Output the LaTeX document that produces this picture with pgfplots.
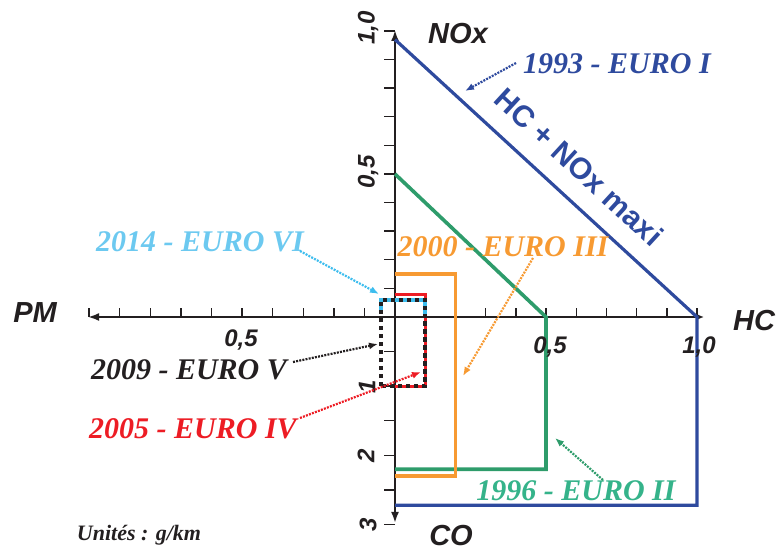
\documentclass[border=0pt]{standalone}
\usepackage{fontspec}
\setmainfont{Liberation Serif}
\setsansfont{Liberation Sans}
\usepackage{pgfplots}
\pgfplotsset{compat=1.18}
\usetikzlibrary{arrows.meta}
\definecolor{eublue}{HTML}{2E4A9E}
\definecolor{eugreen}{HTML}{2E9C6B}
\definecolor{eugreentxt}{HTML}{35B38A}
\definecolor{euorange}{HTML}{F79A32}
\definecolor{eured}{HTML}{ED1C24}
\definecolor{eucyan}{HTML}{3DBDEE}
\definecolor{eucyantxt}{HTML}{6CC9F0}
\definecolor{eublack}{HTML}{231F20}
\begin{document}
\begin{tikzpicture}
\useasboundingbox (0,0) rectangle (777pt,546pt);
% axes, ticks (pixel frame of the reference)
\begin{scope}[shift={(0,546pt)}, x=1pt, y=-1pt]
  \draw[eublack, line width=2.4pt, {Latex[length=11pt,width=8pt]}-{Latex[length=7pt,width=6pt]}] (88,317) -- (704,317);
  \draw[eublack, line width=2.4pt, {Latex[length=11pt,width=8pt]}-{Latex[length=11pt,width=8pt]}] (395,30) -- (395,523);
  \foreach \k in {1,...,10} {
    \draw[eublack, line width=1.4pt] (395+30.2*\k,317) -- ++(0,-9);
    \draw[eublack, line width=1.4pt] (395-30.6*\k,317) -- ++(0,-9);
    \draw[eublack, line width=1.4pt] (395,317-28.6*\k) -- ++(-11,0);
  }
  \foreach \k in {1,...,6} {
    \draw[eublack, line width=1.4pt] (395,317+34.6*\k) -- ++(-11,0);
  }
\end{scope}
\begin{axis}[at={(0,0)}, anchor=south west, x=302pt, y=286pt,
  xmin=-1.30795, xmax=1.26490, ymin=-0.80070, ymax=1.10839,
  hide axis, clip=false,
  y filter/.expression={y<0 ? 0.2420*y : y}]
% y > 0 : NOx (g/km), y < 0 : CO (g/km, drawn downwards), x > 0 : HC, x < 0 : PM
\addplot[eublue, line width=3.2pt, line join=miter] coordinates {(0,0.97) (1.0,0) (1.0,-2.72) (0,-2.72)};
\addplot[eugreen, line width=3.6pt, line join=miter] coordinates {(0,0.5) (0.5,0) (0.5,-2.2) (0,-2.2)};
\addplot[euorange, line width=3.6pt, line join=miter] coordinates {(0,0.15) (0.2,0.15) (0.2,-2.3) (0,-2.3)};
\addplot[eured, line width=3.2pt, line join=miter] coordinates {(0,0.08) (0.1,0.08) (0.1,-1.0) (0,-1.0)};
\addplot[eublack, line width=4.5pt, dash pattern=on 4.5pt off 3.5pt] coordinates {(-0.046,-1.0) (-0.046,0.06) (0.1,0.06) (0.1,-1.0) (-0.046,-1.0)};
\addplot[eucyan, line width=4.5pt, dash pattern=on 4pt off 4pt, dash phase=4pt] coordinates {(-0.046,0.012) (-0.046,0.06) (0.1,0.06) (0.1,0.012)};
\end{axis}
\begin{scope}[shift={(0,546pt)}, x=1pt, y=-1pt]
  % axis names and tick labels
  \begin{scope}[every node/.style={inner sep=0pt, font=\sffamily\bfseries\itshape, text=eublack}]
    \node[font=\fontsize{29}{29}\selectfont\sffamily\bfseries\itshape] at (458,34) {NOx};
    \node[font=\fontsize{29}{29}\selectfont\sffamily\bfseries\itshape] at (754,321) {HC};
    \node[font=\fontsize{29}{29}\selectfont\sffamily\bfseries\itshape] at (35,313) {PM};
    \node[font=\fontsize{29}{29}\selectfont\sffamily\bfseries\itshape] at (451,536) {CO};
    \node[font=\fontsize{24}{24}\selectfont\sffamily\bfseries\itshape] at (550,347) {0,5};
    \node[font=\fontsize{24}{24}\selectfont\sffamily\bfseries\itshape] at (699,347) {1,0};
    \node[font=\fontsize{24}{24}\selectfont\sffamily\bfseries\itshape] at (241,340) {0,5};
    \node[rotate=90, font=\fontsize{24}{24}\selectfont\sffamily\bfseries\itshape] at (368,28) {1,0};
    \node[rotate=90, font=\fontsize{24}{24}\selectfont\sffamily\bfseries\itshape] at (368,172) {0,5};
    \node[rotate=90, font=\fontsize{24}{24}\selectfont\sffamily\bfseries\itshape] at (367,387) {1};
    \node[rotate=90, font=\fontsize{24}{24}\selectfont\sffamily\bfseries\itshape] at (366,456) {2};
    \node[rotate=90, font=\fontsize{24}{24}\selectfont\sffamily\bfseries\itshape] at (368,525) {3};
  \end{scope}
  \node[inner sep=0pt, rotate=-42.6, text=eublue, font=\fontsize{30}{30}\selectfont\sffamily\bfseries] at (579,167) {HC + NOx maxi};
  % Euro labels
  \begin{scope}[every node/.style={inner sep=0pt}]
    \node[text=eublue, font=\fontsize{30}{30}\selectfont\bfseries\itshape] at (617,64) {1993 - EURO I};
    \node[text=euorange, font=\fontsize{30}{30}\selectfont\bfseries\itshape] at (503,247) {2000 - EURO III};
    \node[text=eucyantxt, font=\fontsize{30}{30}\selectfont\bfseries\itshape] at (200,242) {2014 - EURO VI};
    \node[text=eublack, font=\fontsize{30}{30}\selectfont\bfseries\itshape] at (189,370) {2009 - EURO V};
    \node[text=eured, font=\fontsize{30}{30}\selectfont\bfseries\itshape] at (193,429) {2005 - EURO IV};
    \node[text=eugreentxt, font=\fontsize{30}{30}\selectfont\bfseries\itshape] at (576,491) {1996 - EURO II};
    \node[text=eublack, font=\fontsize{22}{22}\selectfont\bfseries\itshape] at (139,535) {Unités : g/km};
  \end{scope}
  % dotted leader arrows
  \tikzset{lead/.style={line width=2.2pt, dash pattern=on 2pt off 1.2pt, -{Latex[length=9pt,width=7pt]}}}
  \draw[lead, eublue] (516,63) -- (465,91);
  \draw[lead, euorange] (533,258) -- (463,376);
  \draw[lead, eucyan] (300,251) -- (379,294);
  \draw[lead, eublack] (293,362) -- (378,344);
  \draw[lead, eured] (300,418) -- (421,372);
  \draw[lead, eugreen] (603,480) -- (555,438);
\end{scope}
\end{tikzpicture}
\end{document}
